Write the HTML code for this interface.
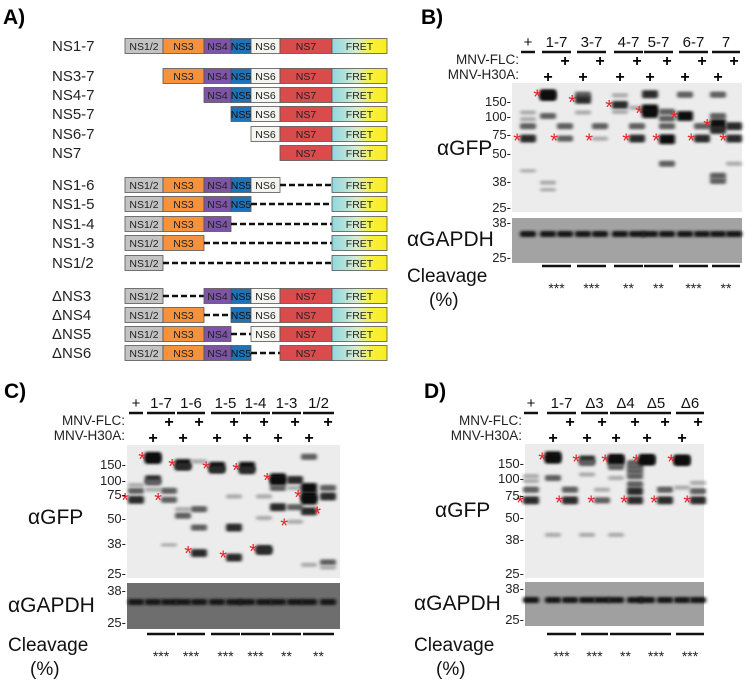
<!DOCTYPE html>
<html><head><meta charset="utf-8">
<style>
html,body{margin:0;padding:0;background:#fff;}
svg{display:block;font-family:"Liberation Sans",Arial,sans-serif;}
</style></head>
<body>
<svg id="fig" width="745" height="683" viewBox="0 0 745 683" xmlns="http://www.w3.org/2000/svg">
<defs>
<filter id="blur" x="-50%" y="-200%" width="200%" height="500%"><feGaussianBlur stdDeviation="1.5 1.3"/></filter>
<linearGradient id="fret" x1="0" x2="1" y1="0" y2="0"><stop offset="0" stop-color="#8fd8e0"/><stop offset="0.45" stop-color="#d6ecd0"/><stop offset="0.7" stop-color="#f8f040"/><stop offset="1" stop-color="#f8ee20"/></linearGradient>
</defs>
<g id="panelA"></g>
<g id="panelB"></g>
<g id="panelC"></g>
<g id="panelD"></g>
</svg>
<script>
// ===== Panel A data =====
const segNames = ["NS1/2","NS3","NS4","NS5","NS6","NS7","FRET"];
const segColors = ["#c3c3c3","#f5923e","#7e55a6","#1f72b5","#f3f3ef","#da4b4b","url(#fret)"];
const segText = ["#222","#222","#222","#111","#222","#222","#222"];
const constructNames = ["NS1-7","NS3-7","NS4-7","NS5-7","NS6-7","NS7","NS1-6","NS1-5","NS1-4","NS1-3","NS1/2","ΔNS3","ΔNS4","ΔNS5","ΔNS6"];
const constructSegs = [
 [0,1,2,3,4,5,6],[1,2,3,4,5,6],[2,3,4,5,6],[3,4,5,6],[4,5,6],[5,6],
 [0,1,2,3,4,6],[0,1,2,3,6],[0,1,2,6],[0,1,6],[0,6],
 [0,2,3,4,5,6],[0,1,3,4,5,6],[0,1,2,4,5,6],[0,1,2,3,5,6]];
const rowY = [46,76,95,114,134,153,185,204,224,243,263,296,315,334,353];

// ===== Panel B data =====
const bLaneLabels = ["+","1-7","3-7","4-7","5-7","6-7","7"];
const bBands = [[0,68,3],[0,85,2],[0,95,1],[0,110,1],[0,42,0.5],
 [1,180,4],[1,172,4],[1,100,2],[1,37,1],[1,33,0.5],
 [2,85,2],[2,68,2],
 [3,178,2],[3,155,3],[3,110,1],
 [4,85,2],[4,68,1],
 [5,175,1],[5,135,3],[5,112,1],
 [6,125,1],[6,85,2],[6,68,3],
 [7,180,3],[7,120,4],[7,108,4],
 [8,112,2],[8,96,2],[8,85,2],[8,67,4],[8,45,2],
 [9,178,2],[9,100,4],
 [10,85,2],[10,68,3],
 [11,178,2],[11,100,2],[11,88,4],[11,80,3],[11,40,2],[11,38,2],
 [12,85,3],[12,68,3],[12,45,1]];
const bStars = [[0,68],[1,180],[2,68],[3,155],[4,68],[5,135],[6,68],[7,115],[8,68],[9,100],[10,68],[11,88],[12,68]];
const bSig = ["***","***","**","**","***","**"];

// ===== Panel C data =====
const cLaneLabels = ["+","1-7","1-6","1-5","1-4","1-3","1/2"];
const cBands = [[0,68,3],[0,80,2],[0,90,1],
 [1,180,4],[1,170,4],[1,102,3],[1,95,2],[1,82,1],
 [2,80,2],[2,68,2],[2,37,0.5],
 [3,150,4],[3,140,3],[3,58,1],[3,52,2],
 [4,160,1],[4,58,2],[4,45,2],[4,33,3],
 [5,140,4],[5,130,3],
 [6,72,1],[6,45,3],[6,31,3],
 [7,140,4],[7,128,3],
 [8,72,1],[8,50,1],[8,35,3],[8,34,3],
 [9,105,4],[9,98,4],[9,85,2],[9,60,3],
 [10,100,3],[10,85,1],[10,60,2],[10,48,1],
 [11,180,2],[11,85,4],[11,72,4],[11,68,4],[11,56,3],[11,28,1],
 [12,85,2],[12,72,3],[12,29,2],[12,27,1]];
const cStars = [[0,70],[1,180],[2,70],[3,150],[4,34],[5,140],[6,32],[7,135],[8,35],[9,105],[10,47],[11,74],[12,56]];
const cSig = ["***","***","***","***","**","**"];

// ===== Panel D data =====
const dLaneLabels = ["+","1-7","Δ3","Δ4","Δ5","Δ6"];
const dBands = [[0,68,3],[0,82,2],[0,95,1],[0,105,1],
 [1,180,4],[1,168,4],[1,100,2],[1,40,1],
 [2,82,2],[2,68,3],
 [3,165,3],[3,150,2],[3,110,1],[3,40,1],
 [4,82,1],[4,68,2],
 [5,168,4],[5,160,4],[5,135,2],[5,100,1],[5,40,1],
 [6,150,2],[6,135,2],[6,120,2],[6,105,2],[6,90,2],[6,80,3],[6,68,3],
 [7,168,4],[7,160,4],
 [8,82,2],[8,68,3],
 [9,165,4],[9,158,4],[9,85,1],
 [10,92,1],[10,80,2],[10,68,3]];
const dStars = [[0,68],[1,175],[2,68],[3,165],[4,68],[5,165],[6,68],[7,165],[8,68],[9,165],[10,68]];
const dSig = ["***","***","**","***","***"];

const mwTicks = [150,100,75,50,38,25];
const gTicks = [38,25];

const NS="http://www.w3.org/2000/svg";
function mk(parent,tag,attrs,text){const e=document.createElementNS(NS,tag);for(const k in attrs)e.setAttribute(k,attrs[k]);if(text!==undefined)e.textContent=text;parent.appendChild(e);return e;}

// ===== Draw panel A =====
(function(){
 const g=document.getElementById('panelA');
 const t=mk(g,'text',{x:3,y:24,'font-size':21,'font-weight':'bold'},'A)');
 
 const segX=[125,163,204,231,251,280,332,387];
 constructNames.forEach((nm,i)=>{
  const y=rowY[i];
  const lab=mk(g,'text',{x:52,y:y+5,'font-size':15,fill:'#222'},nm);
  
  const segs=constructSegs[i];
  for(let j=0;j<segs.length;j++){
   const s=segs[j];
   if(j>0){const p=segs[j-1];if(s!==p+1){
     const dl=mk(g,'line',{x1:segX[p+1],x2:segX[s],y1:y,y2:y,stroke:'#111','stroke-width':2.4,'stroke-dasharray':'6,3'});
     }}
   const r=mk(g,'rect',{x:segX[s],y:y-7.5,width:segX[s+1]-segX[s],height:15,fill:segColors[s],stroke:'#555','stroke-width':0.8});
   
   const tx=mk(g,'text',{x:(segX[s]+segX[s+1])/2,y:y+4,'font-size':10.5,'text-anchor':'middle',fill:segText[s]},segNames[s]);
   
  }
 });
})();

// ===== Blot panel drawer =====
function drawBlot(cfg){
 const g=document.getElementById(cfg.id);
 const lab=mk(g,'text',{x:cfg.labX,y:cfg.labY,'font-size':21,'font-weight':'bold'},cfg.letter);
 
 function yK(k){const T=mwTicks,Y=cfg.tickY;
  if(k>=T[0]){return Y[0]-(Math.log(k)-Math.log(T[0]))/(Math.log(T[0])-Math.log(T[1]))*(Y[1]-Y[0]);}
  for(let i=0;i<T.length-1;i++){if(k<=T[i]&&k>=T[i+1]){const f=(Math.log(T[i])-Math.log(k))/(Math.log(T[i])-Math.log(T[i+1]));return Y[i]+f*(Y[i+1]-Y[i]);}}
  return Y[Y.length-1];}
 const L=cfg.lanes;
 const bg=mk(g,'rect',{x:cfg.x0,y:cfg.top,width:cfg.x1-cfg.x0,height:cfg.bot-cfg.top,fill:'#ececec'});
 
 cfg.bands.forEach(b=>{
  const inten=b[2];const h=2.5+inten*1.8;
  const col=['#cfcfcf','#acacac','#5e5e5e','#2a2a2a','#0c0c0c'][Math.min(4,Math.round(inten))];
  const r=mk(g,'rect',{x:L[b[0]]-8,y:yK(b[1])-h/2,width:16,height:h,fill:col,rx:2,filter:'url(#blur)'});
  
 });
 cfg.stars.forEach(s=>{
  const st=mk(g,'text',{x:L[s[0]]-7,y:yK(s[1])+9,'font-size':20,'text-anchor':'end',fill:'#e8262a'},'*');
  
 });
 mwTicks.forEach((t,i)=>{
  const tl=mk(g,'text',{x:cfg.x0-1,y:cfg.tickY[i]+5,'font-size':13,'text-anchor':'end',fill:'#222'},t+'-');
  
 });
 const gb=mk(g,'rect',{x:cfg.x0,y:cfg.gTop,width:cfg.x1-cfg.x0,height:cfg.gBot-cfg.gTop,fill:cfg.gFill});
 
 L.forEach(x=>{
  const r=mk(g,'rect',{x:x-8,y:cfg.gBand-3,width:16,height:6,fill:'#151515',rx:2,filter:'url(#blur)'});
  
 });
 gTicks.forEach((t,i)=>{
  const tl=mk(g,'text',{x:cfg.x0-1,y:cfg.gTickY[i]+5,'font-size':13,'text-anchor':'end',fill:'#222'},t+'-');
  
 });
 cfg.labels.forEach((txt,i)=>{
  let xs = i===0?[L[0]]:[L[2*i-1],L[2*i]];
  const cx=(xs[0]+xs[xs.length-1])/2;
  const t=mk(g,'text',{x:cx,y:cfg.hY,'font-size':15,'text-anchor':'middle',fill:'#111'},txt);
  
  const bl=mk(g,'line',{x1:xs[0]-(i===0?7:6),x2:xs[xs.length-1]+(i===0?7:6),y1:cfg.hY+5,y2:cfg.hY+5,stroke:'#111','stroke-width':2.5});
  
  if(i>0){
   const p1=mk(g,'text',{x:xs[1],y:cfg.hY+19,'font-size':16,'text-anchor':'middle','font-weight':'bold'},'+');
   
   const p2=mk(g,'text',{x:xs[0],y:cfg.hY+35,'font-size':16,'text-anchor':'middle','font-weight':'bold'},'+');
   
   const cb=mk(g,'line',{x1:xs[0]-6,x2:xs[1]+6,y1:cfg.cbY,y2:cfg.cbY,stroke:'#111','stroke-width':2.5});
   
   const sg=mk(g,'text',{x:cx,y:cfg.cbY+27,'font-size':14,'text-anchor':'middle',fill:'#222'},cfg.sig[i-1]);
   
  }
 });
 const f=mk(g,'text',{x:cfg.mnvX,y:cfg.hY+17,'font-size':13.5,'text-anchor':'end',fill:'#222'},'MNV-FLC:');
 
 const h=mk(g,'text',{x:cfg.mnvX,y:cfg.hY+32,'font-size':13.5,'text-anchor':'end',fill:'#222'},'MNV-H30A:');
 
 const a1=mk(g,'text',{x:cfg.gfpX,y:cfg.gfpY,'font-size':21,fill:'#111'},'αGFP');
 
 const a2=mk(g,'text',{x:cfg.gapX,y:cfg.gapY,'font-size':21,fill:'#111'},'αGAPDH');
 
 const c1=mk(g,'text',{x:cfg.clX,y:cfg.clY,'font-size':19,fill:'#111'},'Cleavage');
 
 const c2=mk(g,'text',{x:cfg.clX+22,y:cfg.clY+24,'font-size':19,fill:'#111'},'(%)');
 
}

drawBlot({id:'panelB',letter:'B)',labX:421,labY:24,x0:512,x1:742,top:83,bot:212,
 tickY:[101,116,134,153,181,207],gTop:218,gBot:263,gFill:'#a3a3a3',gBand:234,gTickY:[222,257],
 lanes:[528,548,565,583,600,620,637,650,667,685,702,718,734],labels:bLaneLabels,bands:bBands,stars:bStars,sig:bSig,
 hY:47,mnvX:519,cbY:266,gfpX:437,gfpY:155,gapX:407,gapY:246,clX:407,clY:282});
drawBlot({id:'panelC',letter:'C)',labX:4,labY:398,x0:127,x1:340,top:445,bot:578,
 tickY:[464,480,494,518,543,573],gTop:583,gBot:629,gFill:'#6e6e6e',gBand:602,gTickY:[590,622],
 lanes:[136,153,169,183,199,217,234,247,264,278,295,309,328],labels:cLaneLabels,bands:cBands,stars:cStars,sig:cSig,
 hY:408,mnvX:125,cbY:634,gfpX:28,gfpY:524,gapX:8,gapY:612,clX:8,clY:651});
drawBlot({id:'panelD',letter:'D)',labX:424,labY:398,x0:525,x1:704,top:444,bot:578,
 tickY:[463,478,495,517,539,573],gTop:582,gBot:626,gFill:'#a0a0a0',gBand:600,gTickY:[588,619],
 lanes:[531,553,570,587,602,616,635,647,665,682,698],labels:dLaneLabels,bands:dBands,stars:dStars,sig:dSig,
 hY:408,mnvX:522,cbY:634,gfpX:435,gfpY:517,gapX:414,gapY:610,clX:414,clY:651});
</script>
</body></html>
